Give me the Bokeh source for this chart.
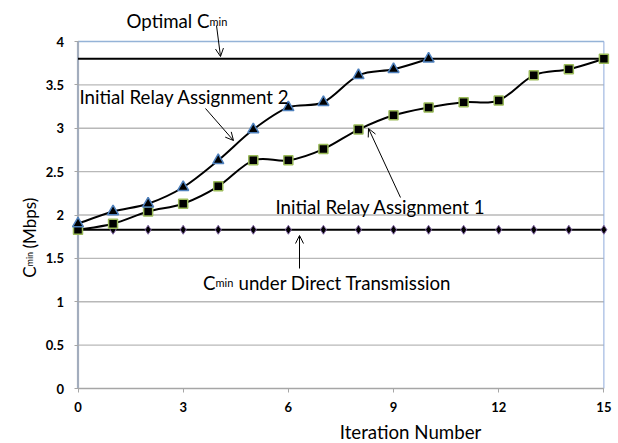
import math
from bokeh.plotting import figure
from bokeh.models import Range1d, FixedTicker, Label, Arrow, OpenHead
from bokeh.embed import file_html
from bokeh.resources import INLINE

# ---------------- data ----------------
iterations = list(range(16))
assign1 = [1.83, 1.90, 2.04, 2.13, 2.33, 2.63, 2.63, 2.76, 2.985, 3.15, 3.24, 3.30, 3.32, 3.61, 3.68, 3.80]
iter2 = list(range(11))
assign2 = [1.90, 2.04, 2.13, 2.32, 2.63, 2.985, 3.24, 3.30, 3.61, 3.68, 3.80]
direct = [1.83] * 16
optimal = [3.80] * 16

x_ticks = [0, 3, 6, 9, 12, 15]
y_ticks = [0, 0.5, 1, 1.5, 2, 2.5, 3, 3.5, 4]
y_tick_labels = ["0", "0.5", "1", "1.5", "2", "2.5", "3", "3.5", "4"]

FONT = "Lato"

# picture-pixel helpers (canvas fills the picture)
def X(px):
    return (px - 77.5) / 35.06

def Y(py):
    return (388.0 - py) / 86.75

p = figure(width=618, height=443, output_backend="svg", toolbar_location=None,
           x_range=Range1d(X(0), X(618)), y_range=Range1d(Y(443), Y(0)),
           min_border_left=0, min_border_right=0, min_border_top=0, min_border_bottom=0)
p.outline_line_color = None
p.grid.visible = False

# axes fixed at the data origin, inside the frame
p.xaxis.fixed_location = 0
p.yaxis.fixed_location = 0
p.xaxis.ticker = FixedTicker(ticks=x_ticks)
p.yaxis.ticker = FixedTicker(ticks=y_ticks)
p.yaxis.major_label_overrides = {t: l for t, l in zip(y_ticks, y_tick_labels)}
for ax in (p.xaxis, p.yaxis):
    ax.axis_line_color = None
    ax.minor_tick_line_color = None
    ax.major_tick_in = 0
    ax.major_tick_out = 4
    ax.major_tick_line_color = "#A6A6A6"
    ax.major_label_text_font = FONT
    ax.major_label_text_font_style = "bold"
    ax.major_label_text_font_size = "13px"
    ax.major_label_text_color = "black"
p.yaxis.major_label_standoff = 10
p.xaxis.major_label_standoff = 9

# gridlines and frame lines
gx0 = [x_ticks[0]] * (len(y_ticks) - 2)
gx1 = [x_ticks[-1]] * (len(y_ticks) - 2)
p.segment(gx0, y_ticks[1:-1], gx1, y_ticks[1:-1], line_color="#B8B8B8", line_width=1.3)
p.segment([x_ticks[0]], [y_ticks[-1]], [x_ticks[-1]], [y_ticks[-1]], line_color="#95B3D7", line_width=1.5)
p.segment([x_ticks[-1]], [y_ticks[0]], [x_ticks[-1]], [y_ticks[-1]], line_color="#8EAADB", line_width=1)
p.segment([x_ticks[0]], [y_ticks[0]], [x_ticks[-1]], [y_ticks[0]], line_color="#A6A6A6", line_width=1.5)
p.segment([x_ticks[0]], [y_ticks[0]], [x_ticks[0]], [y_ticks[-1]], line_color="#A3ADBD", line_width=2.2)

# smooth curve via Catmull-Rom -> Bezier
def smooth(xs, ys):
    n = len(xs)
    d = dict(x0=[], y0=[], x1=[], y1=[], cx0=[], cy0=[], cx1=[], cy1=[])
    for i in range(n - 1):
        a = i - 1 if i > 0 else i
        b = i + 2 if i + 2 < n else i + 1
        d["x0"].append(xs[i]); d["y0"].append(ys[i])
        d["x1"].append(xs[i + 1]); d["y1"].append(ys[i + 1])
        d["cx0"].append(xs[i] + (xs[i + 1] - xs[a]) / 6)
        d["cy0"].append(ys[i] + (ys[i + 1] - ys[a]) / 6)
        d["cx1"].append(xs[i + 1] - (xs[b] - xs[i]) / 6)
        d["cy1"].append(ys[i + 1] - (ys[b] - ys[i]) / 6)
    return d

p.line(iterations, optimal, line_color="black", line_width=2)
p.line(iterations, direct, line_color="black", line_width=2)
for xs, ys in ((iterations, assign1), (iter2, assign2)):
    s = smooth(xs, ys)
    p.bezier(x0=s["x0"], y0=s["y0"], x1=s["x1"], y1=s["y1"],
             cx0=s["cx0"], cy0=s["cy0"], cx1=s["cx1"], cy1=s["cy1"],
             line_color="black", line_width=2)

p.scatter(iterations, direct, marker="diamond", size=9, fill_color="black",
          line_color="#8064A2", line_width=1)
p.scatter(iterations, assign1, marker="square", size=9, fill_color="black",
          line_color="#9BBB59", line_width=1.5)
p.scatter(iter2, assign2, marker="triangle", size=11, fill_color="black",
          line_color="#4F81BD", line_width=1.5)

# annotation texts
def lab(px, py, text, size="18.7px", align="left", angle=0.0):
    p.add_layout(Label(x=X(px), y=Y(py), text=text, text_font=FONT, text_font_size=size,
                       text_align=align, text_baseline="alphabetic", angle=angle,
                       text_color="black"))

lab(209, 20, "Optimal C", align="right")
lab(209, 21, "min", size="11px")
lab(79, 96, "Initial Relay Assignment 2")
lab(275, 206, "Initial Relay Assignment 1")
lab(215, 282, "C", align="right")
lab(215, 282, "min", size="11px")
lab(238, 282, "under Direct Transmission")
lab(410, 431, "Iteration Number", align="center")
lab(29, 266, "C", size="17px", align="right", angle=math.pi / 2)
lab(29, 266, "min", size="9px", angle=math.pi / 2)
lab(29, 248, "(Mbps)", size="17px", angle=math.pi / 2)

# arrows
def arr(ax, ay, bx, by):
    p.add_layout(Arrow(end=OpenHead(size=8, line_width=1, line_color="black"),
                       x_start=X(ax), y_start=Y(ay), x_end=X(bx), y_end=Y(by),
                       line_width=1, line_color="black"))

arr(216, 25, 220, 56)
arr(205, 108, 233, 140)
arr(400, 197, 368, 128)
arr(299, 268, 299, 235)

open("out.html", "w").write(file_html(p, INLINE))
